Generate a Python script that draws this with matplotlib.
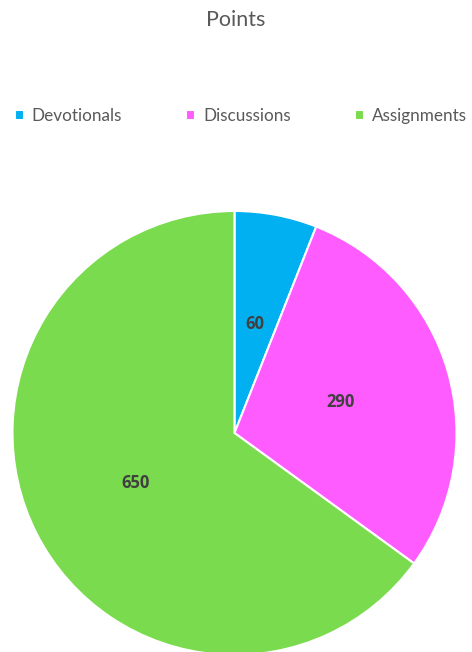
import matplotlib.pyplot as plt

# Data
categories = ["Devotionals", "Discussions", "Assignments"]
points = [60, 290, 650]
colors = ["#00B0F0", "#FF5CFF", "#7ADB4E"]

W, H = 472, 652
fig = plt.figure(figsize=(W / 100, H / 100), dpi=100)

# pie axes placed so the circle sits where it does in the reference
cx, cy, r = 234.5, 433, 222
ax = fig.add_axes([(cx - r) / W, (H - cy - r) / H, 2 * r / W, 2 * r / H])

total = sum(points)


def show_value(pct):
    return f"{round(pct * total / 100):d}"


wedges, texts, autotexts = ax.pie(
    points,
    colors=colors,
    startangle=90,
    counterclock=False,
    autopct=show_value,
    pctdistance=0.5,
    wedgeprops=dict(edgecolor="white", linewidth=1.5),
    textprops=dict(color="#404040", fontsize=12, fontweight="bold",
                   family=["Open Sans", "DejaVu Sans"]),
)
ax.set_xlim(-1, 1)
ax.set_ylim(-1, 1)
ax.set_aspect("auto")
ax.axis("off")

fig.text(0.5, 1 - 20 / H, "Points", ha="center", va="center",
         fontsize=15.5, color="#595959", family=["Lato", "DejaVu Sans"])

fig.legend(
    wedges, categories,
    loc="center", bbox_to_anchor=(0.51, 1 - 116 / H),
    ncol=3, frameon=False,
    handlelength=0.55, handleheight=0.55, handletextpad=0.45,
    columnspacing=3.75,
    prop=dict(family=["Lato", "DejaVu Sans"], size=12.3),
    labelcolor="#595959",
)

fig.savefig("out.png", dpi=100)
